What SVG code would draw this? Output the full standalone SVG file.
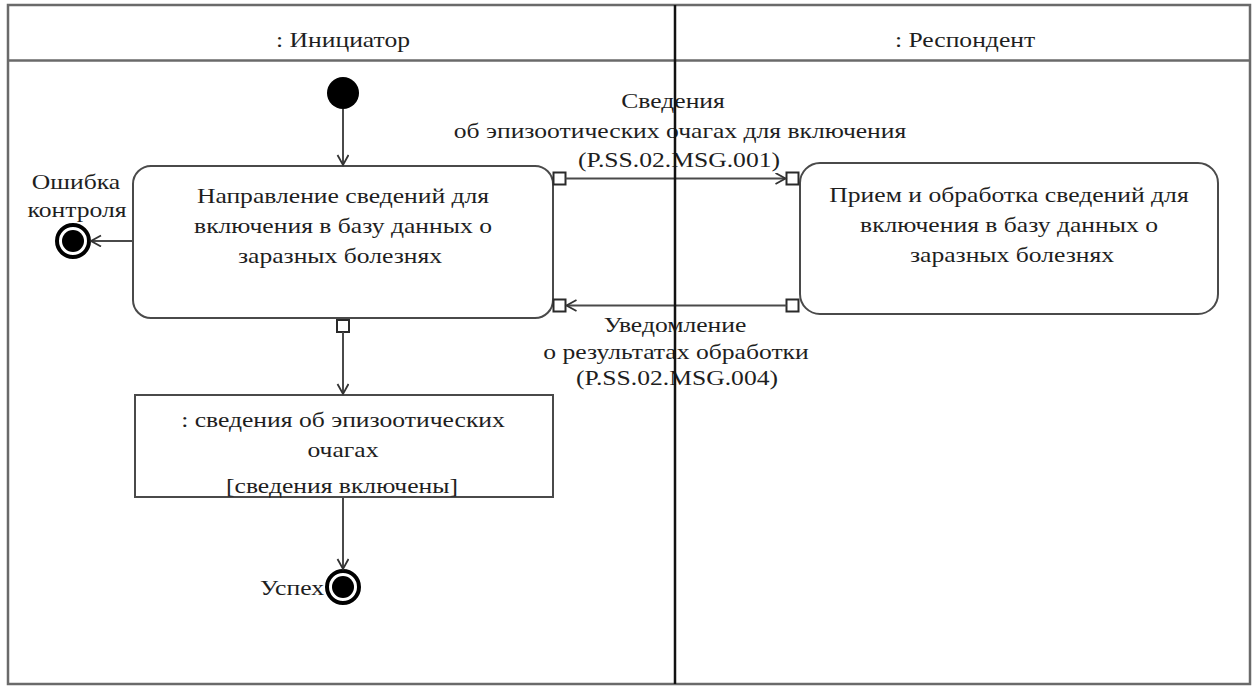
<svg xmlns="http://www.w3.org/2000/svg" width="1259" height="686" viewBox="0 0 1259 686">
<defs>
<style>
.t{font-family:"Liberation Serif","Times New Roman",serif;font-size:21px;fill:#1e1e1e;text-anchor:middle}
.ln{stroke:#4a4a4a;stroke-width:2;fill:none}
.box{stroke:#4a4a4a;stroke-width:2;fill:#fff}
.pin{stroke:#2a2a2a;stroke-width:2;fill:#fff}
</style>
<marker id="open" markerUnits="userSpaceOnUse" markerWidth="14" markerHeight="14" refX="11" refY="6" orient="auto">
<path d="M1,0.5 L11,6 L1,11.5" fill="none" stroke="#333" stroke-width="1.8"/>
</marker>
</defs>
<rect x="0" y="0" width="1259" height="686" fill="#fff"/>
<g id="frame">
<rect x="8" y="5" width="1242" height="679" fill="none" stroke="#6a6a6a" stroke-width="2.5"/>
<line x1="8" y1="60.5" x2="1250" y2="60.5" stroke="#6a6a6a" stroke-width="2.5"/>
</g>
<g id="lane-initiator">
<text class="t" transform="translate(343,47) scale(1.22,1)">: Инициатор</text>
</g>
<g id="lane-respondent">
<text class="t" transform="translate(965,47) scale(1.22,1)">: Респондент</text>
</g>
<g id="initial">
<circle cx="343" cy="93" r="16" fill="#000"/>
</g>
<g id="action-send">
<rect class="box" x="133" y="166" width="420" height="152" rx="18" ry="18"/>
<text class="t" transform="translate(343,203) scale(1.22,1)">Направление сведений для</text>
<text class="t" transform="translate(343,233) scale(1.22,1)">включения в базу данных о</text>
<text class="t" transform="translate(340,263) scale(1.22,1)">заразных болезнях</text>
<rect class="pin" x="553.5" y="172.5" width="12" height="12"/>
<rect class="pin" x="553.5" y="299.5" width="12" height="12"/>
<rect class="pin" x="337" y="320" width="12" height="12"/>
</g>
<g id="action-receive">
<rect class="box" x="800" y="163" width="418" height="151" rx="20" ry="20"/>
<text class="t" transform="translate(1009,202) scale(1.22,1)">Прием и обработка сведений для</text>
<text class="t" transform="translate(1009,232) scale(1.22,1)">включения в базу данных о</text>
<text class="t" transform="translate(1012,262) scale(1.22,1)">заразных болезнях</text>
<rect class="pin" x="786.5" y="172.5" width="12" height="12"/>
<rect class="pin" x="786.5" y="299.5" width="12" height="12"/>
</g>
<g id="object-node">
<rect class="box" x="135" y="395" width="418" height="102"/>
<text class="t" transform="translate(343,427) scale(1.22,1)">: сведения об эпизоотических</text>
<text class="t" transform="translate(343,457) scale(1.22,1)">очагах</text>
<text class="t" transform="translate(342,493) scale(1.22,1)">[сведения включены]</text>
</g>
<g id="final-error">
<circle cx="73" cy="241" r="16" fill="#fff" stroke="#000" stroke-width="4"/>
<circle cx="73" cy="241" r="11" fill="#000"/>
<text class="t" transform="translate(76,189) scale(1.22,1)">Ошибка</text>
<text class="t" transform="translate(77,217) scale(1.22,1)">контроля</text>
</g>
<g id="final-success">
<circle cx="343" cy="587" r="16" fill="#fff" stroke="#000" stroke-width="4"/>
<circle cx="343" cy="587" r="11" fill="#000"/>
<text class="t" transform="translate(292,595) scale(1.22,1)">Успех</text>
</g>
<g id="connectors">
<line class="ln" x1="343" y1="109" x2="343" y2="165" marker-end="url(#open)"/>
<line class="ln" x1="133" y1="241" x2="91" y2="241" marker-end="url(#open)"/>
<line class="ln" x1="343" y1="332" x2="343" y2="394" marker-end="url(#open)"/>
<line class="ln" x1="343" y1="497" x2="343" y2="569" marker-end="url(#open)"/>
<line class="ln" x1="565.5" y1="178.5" x2="785.5" y2="178.5" marker-end="url(#open)"/>
<line class="ln" x1="786.5" y1="305.5" x2="566.5" y2="305.5" marker-end="url(#open)"/>
<text class="t" transform="translate(673,108) scale(1.22,1)">Сведения</text>
<text class="t" transform="translate(680,138) scale(1.22,1)">об эпизоотических очагах для включения</text>
<text class="t" transform="translate(679,167) scale(1.22,1)">(P.SS.02.MSG.001)</text>
<text class="t" transform="translate(675,332) scale(1.22,1)">Уведомление</text>
<text class="t" transform="translate(676,359) scale(1.22,1)">о результатах обработки</text>
<text class="t" transform="translate(677,385) scale(1.22,1)">(P.SS.02.MSG.004)</text>
</g>
<g id="lane-divider">
<line x1="675" y1="5" x2="675" y2="684" stroke="#111" stroke-width="2.5"/>
</g>
</svg>
